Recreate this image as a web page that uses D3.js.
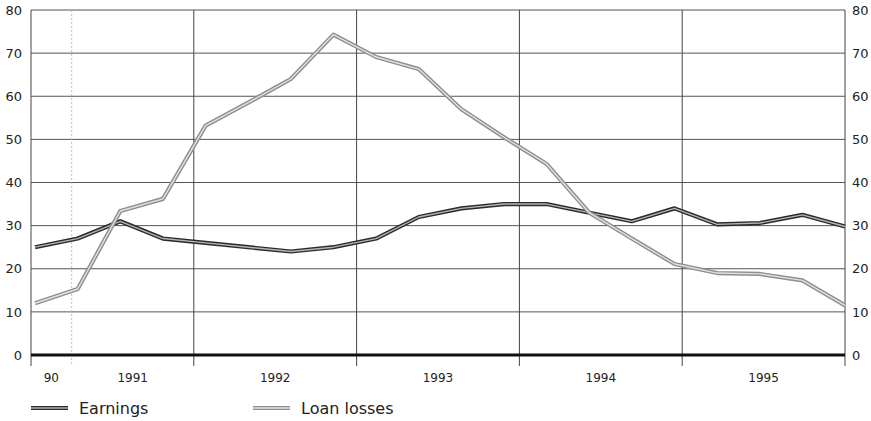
<!DOCTYPE html>
<html>
<head>
<meta charset="utf-8">
<script src="https://cdn.jsdelivr.net/npm/d3@7"></script>
<style>
  body { margin: 0; background: #fff; }
  svg { display: block; font-family: "DejaVu Sans", sans-serif; }
</style>
</head>
<body>
<svg id="chart" width="871" height="421"></svg>
<script>
// quarterly observations, Q1 1991 .. Q4 1995
var quarters = ["91Q1","91Q2","91Q3","91Q4","92Q1","92Q2","92Q3","92Q4",
  "93Q1","93Q2","93Q3","93Q4","94Q1","94Q2","94Q3","94Q4",
  "95Q1","95Q2","95Q3","95Q4"];
var earnings = [25, 27, 31, 27, 26, 25, 24, 25, 27, 32, 34, 35, 35, 33, 31, 34, 30.3, 30.6, 32.5, 29.8];
var loanLosses = [12, 15.3, 33.4, 36.2, 53.2, 58.5, 64, 74.3, 69.1, 66.3, 57, 50.5, 44.3, 33, 27, 21.1, 19, 18.8, 17.3, 11.5];
var yTicks = [0, 10, 20, 30, 40, 50, 60, 70, 80];
var yearLabels = ["90", "1991", "1992", "1993", "1994", "1995"];
var yearBounds = [0, 1, 4, 8, 12, 16, 20]; // in quarter units along the axis

var pLeft = 31, pRight = 845, pTop = 10, pBottom = 355;
var svg = d3.select("#chart");

var x = d3.scaleLinear().domain([0, 20]).range([pLeft, pRight]);
var xp = d3.scalePoint().domain(quarters).range([x(0.1), x(20)]);
var y = d3.scaleLinear().domain([0, 80]).range([pBottom, pTop]);

// horizontal grid
svg.append("g").selectAll("line")
  .data(yTicks.filter(function(d) { return d > 0; }))
  .enter().append("line")
  .attr("x1", pLeft).attr("x2", pRight)
  .attr("y1", function(d) { return y(d); })
  .attr("y2", function(d) { return y(d); })
  .attr("stroke", "#555").attr("stroke-width", 1);

// vertical year lines
svg.append("g").selectAll("line")
  .data(yearBounds)
  .enter().append("line")
  .attr("x1", function(d) { return x(d); })
  .attr("x2", function(d) { return x(d); })
  .attr("y1", pTop).attr("y2", pBottom + 11)
  .attr("stroke", function(d) { return d === 1 ? "#bbb" : "#444"; })
  .attr("stroke-dasharray", function(d) { return d === 1 ? "2,2" : null; })
  .attr("stroke-width", 1);

// zero line
svg.append("line")
  .attr("x1", pLeft).attr("x2", pRight)
  .attr("y1", y(0)).attr("y2", y(0))
  .attr("stroke", "#111").attr("stroke-width", 3);

// y labels both sides
var yl = d3.axisLeft(y).tickValues(yTicks).tickSize(0).tickPadding(9);
svg.append("g").attr("transform", "translate(" + pLeft + ",0)").call(yl)
  .call(function(g) { g.select(".domain").remove(); })
  .selectAll("text").attr("font-size", 13).attr("font-family", "DejaVu Sans").attr("fill", "#222");
var yr = d3.axisRight(y).tickValues(yTicks).tickSize(0).tickPadding(7);
svg.append("g").attr("transform", "translate(" + pRight + ",0)").call(yr)
  .call(function(g) { g.select(".domain").remove(); })
  .selectAll("text").attr("font-size", 13).attr("font-family", "DejaVu Sans").attr("fill", "#222");

// year labels centred in their spans
svg.append("g").selectAll("text")
  .data(yearLabels)
  .enter().append("text")
  .attr("x", function(d, i) { return (x(yearBounds[i]) + x(yearBounds[i + 1])) / 2; })
  .attr("y", 382)
  .attr("text-anchor", "middle")
  .attr("font-size", 12)
  .attr("fill", "#222")
  .text(function(d) { return d; });

// series drawn as double strokes
var line = d3.line().x(function(d, i) { return xp(quarters[i]); }).y(function(d) { return y(d); });
var series = [
  { name: "Earnings", values: earnings, outer: "#2b2b2b", inner: "#b5b5b5", lx: 31 },
  { name: "Loan losses", values: loanLosses, outer: "#8e8e8e", inner: "#e2e2e2", lx: 253 }
];
series.forEach(function(s) {
  svg.append("path").datum(s.values).attr("d", line)
    .attr("fill", "none").attr("stroke", s.outer).attr("stroke-width", 4.2)
    .attr("stroke-linejoin", "round");
  svg.append("path").datum(s.values).attr("d", line)
    .attr("fill", "none").attr("stroke", s.inner).attr("stroke-width", 1.4)
    .attr("stroke-linejoin", "round");
  // legend
  svg.append("line").attr("x1", s.lx).attr("x2", s.lx + 37).attr("y1", 408).attr("y2", 408)
    .attr("stroke", s.outer).attr("stroke-width", 4.2);
  svg.append("line").attr("x1", s.lx).attr("x2", s.lx + 37).attr("y1", 408).attr("y2", 408)
    .attr("stroke", s.inner).attr("stroke-width", 1.4);
  svg.append("text").attr("x", s.lx + 48).attr("y", 414)
    .attr("font-size", 16).attr("fill", "#222").text(s.name);
});
</script>
</body>
</html>
